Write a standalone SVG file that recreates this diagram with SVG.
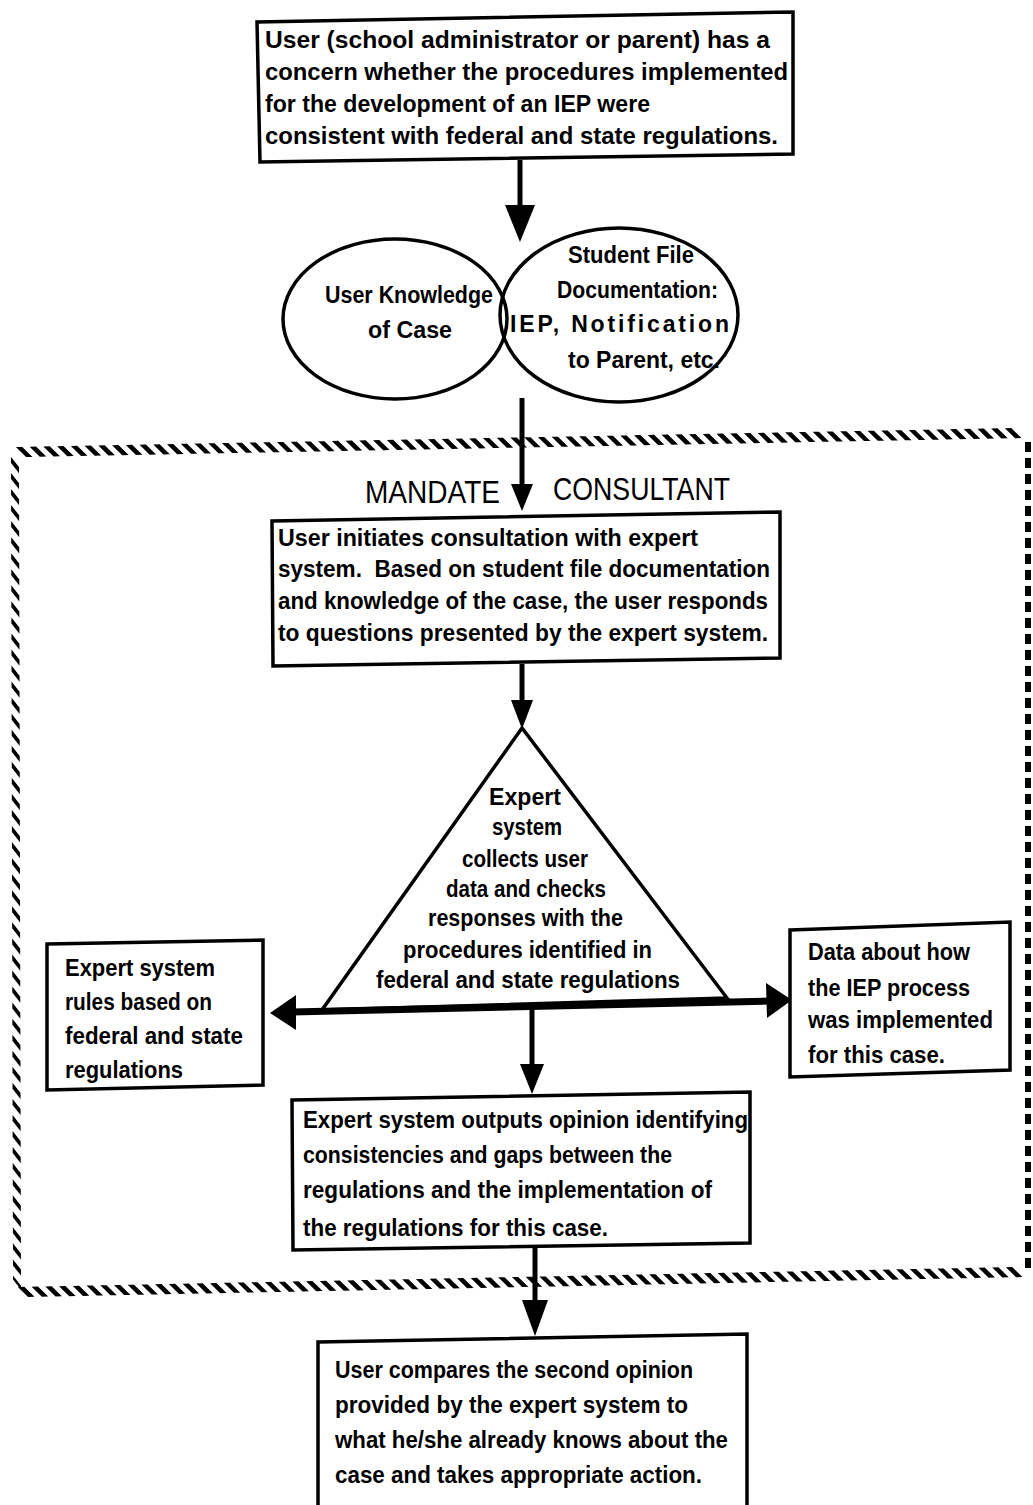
<svg xmlns="http://www.w3.org/2000/svg" width="1033" height="1505" viewBox="0 0 1033 1505">
  <style>
    .box { fill: #fff; stroke: #000; stroke-width: 3.5; stroke-linejoin: miter; }
    .shape { fill: none; stroke: #000; stroke-width: 3.5; }
    .t { font-family: "Liberation Sans", Arial, sans-serif; font-weight: bold; font-size: 23px; fill: #000; }
    .title { font-family: "Liberation Sans Narrow", "Liberation Sans", Arial, sans-serif; font-size: 32px; fill: #000; }
    .line { stroke: #000; stroke-width: 5; fill: none; }
    .head { fill: #000; }
    .hatchH { stroke: #000; stroke-width: 10; stroke-dasharray: 6.5 7.5; fill: none; }
    .hatchV { stroke: #000; stroke-width: 8; stroke-dasharray: 6 10; fill: none; }
  </style>

  <rect width="1033" height="1505" fill="#fff"/>

  <!-- MANDATE CONSULTANT boundary: thick dashed strokes skewed into slanted ticks -->
  <g id="boundary">
    <g transform="translate(0,443) skewX(45) translate(0,-443)">
      <line class="hatchH" x1="12" y1="452" x2="1030" y2="433"/>
    </g>
    <g transform="translate(0,1283) skewX(45) translate(0,-1283)">
      <line class="hatchH" x1="14" y1="1292" x2="1030" y2="1272"/>
    </g>
    <g transform="translate(15,0) skewY(52) translate(-15,0)">
      <line class="hatchV" x1="15" y1="462" x2="17" y2="1282"/>
    </g>
    <line x1="1028" y1="442" x2="1028" y2="1268" stroke="#000" stroke-width="6" stroke-dasharray="10 6"/>
    <text class="title" x="365" y="503" textLength="135" lengthAdjust="spacingAndGlyphs">MANDATE</text>
    <text class="title" x="553" y="500" textLength="177" lengthAdjust="spacingAndGlyphs">CONSULTANT</text>
  </g>

  <!-- connectors -->
  <g id="connectors">
    <line class="line" x1="520" y1="160" x2="520" y2="210"/>
    <polygon class="head" points="505,205 535,205 520,242"/>
    <line class="line" x1="522" y1="398" x2="522" y2="488"/>
    <polygon class="head" points="511,484 533,484 522,511"/>
    <line class="line" x1="522" y1="664" x2="522" y2="705"/>
    <polygon class="head" points="511,700 533,700 522,729"/>
    <!-- base bar with two-way arrows -->
    <line x1="292" y1="1012" x2="770" y2="1001" stroke="#000" stroke-width="7"/>
    <polygon class="head" points="270,1013 296,995 296,1030"/>
    <polygon class="head" points="792,1000 766,983 767,1018"/>
    <line class="line" x1="532" y1="1008" x2="532" y2="1068"/>
    <polygon class="head" points="520,1064 544,1064 532,1094"/>
    <line class="line" x1="535" y1="1248" x2="535" y2="1305"/>
    <polygon class="head" points="522,1300 548,1300 535,1336"/>
  </g>

  <g id="n1">
    <polygon class="box" points="257,22 793,12 793,154 260,162"/>
    <text class="t" x="265" y="48" textLength="505" lengthAdjust="spacingAndGlyphs">User (school administrator or parent) has a</text>
    <text class="t" x="265" y="80" textLength="523" lengthAdjust="spacingAndGlyphs">concern whether the procedures implemented</text>
    <text class="t" x="265" y="112" textLength="385" lengthAdjust="spacingAndGlyphs">for the development of an IEP were</text>
    <text class="t" x="265" y="144" textLength="513" lengthAdjust="spacingAndGlyphs">consistent with federal and state regulations.</text>
  </g>

  <g id="n2">
    <ellipse class="shape" cx="395" cy="319" rx="112" ry="80"/>
    <text class="t" x="325" y="303" textLength="168" lengthAdjust="spacingAndGlyphs">User Knowledge</text>
    <text class="t" x="368" y="338" textLength="84" lengthAdjust="spacingAndGlyphs">of Case</text>
  </g>

  <g id="n3">
    <ellipse class="shape" cx="619" cy="315" rx="119" ry="87"/>
    <text class="t" x="568" y="263" textLength="126" lengthAdjust="spacingAndGlyphs">Student File</text>
    <text class="t" x="557" y="298" textLength="161" lengthAdjust="spacingAndGlyphs">Documentation:</text>
    <text class="t" x="510" y="332" textLength="219" lengthAdjust="spacing">IEP, Notification</text>
    <text class="t" x="568" y="368" textLength="152" lengthAdjust="spacingAndGlyphs">to Parent, etc.</text>
  </g>

  <g id="n4">
    <polygon class="box" points="272,521 780,512 780,658 273,666"/>
    <text class="t" x="278" y="546" textLength="420" lengthAdjust="spacingAndGlyphs">User initiates consultation with expert</text>
    <text class="t" x="278" y="577" textLength="492" lengthAdjust="spacingAndGlyphs" xml:space="preserve">system.  Based on student file documentation</text>
    <text class="t" x="278" y="609" textLength="490" lengthAdjust="spacingAndGlyphs">and knowledge of the case, the user responds</text>
    <text class="t" x="278" y="641" textLength="490" lengthAdjust="spacingAndGlyphs">to questions presented by the expert system.</text>
  </g>

  <g id="n5">
    <polygon class="shape" points="522,728 322,1010 727,998" stroke-width="3"/>
    <text class="t" x="489" y="805" textLength="72" lengthAdjust="spacingAndGlyphs">Expert</text>
    <text class="t" x="492" y="835" textLength="70" lengthAdjust="spacingAndGlyphs">system</text>
    <text class="t" x="462" y="867" textLength="126" lengthAdjust="spacingAndGlyphs">collects user</text>
    <text class="t" x="446" y="897" textLength="160" lengthAdjust="spacingAndGlyphs">data and checks</text>
    <text class="t" x="428" y="926" textLength="195" lengthAdjust="spacingAndGlyphs">responses with the</text>
    <text class="t" x="403" y="958" textLength="249" lengthAdjust="spacingAndGlyphs">procedures identified in</text>
    <text class="t" x="376" y="988" textLength="304" lengthAdjust="spacingAndGlyphs">federal and state regulations</text>
  </g>

  <g id="n6">
    <polygon class="box" points="47,944 263,940 263,1085 47,1090"/>
    <text class="t" x="65" y="976" textLength="150" lengthAdjust="spacingAndGlyphs">Expert system</text>
    <text class="t" x="65" y="1010" textLength="147" lengthAdjust="spacingAndGlyphs">rules based on</text>
    <text class="t" x="65" y="1044" textLength="178" lengthAdjust="spacingAndGlyphs">federal and state</text>
    <text class="t" x="65" y="1078" textLength="118" lengthAdjust="spacingAndGlyphs">regulations</text>
  </g>

  <g id="n7">
    <polygon class="box" points="790,930 1010,922 1010,1070 790,1077"/>
    <text class="t" x="808" y="960" textLength="162" lengthAdjust="spacingAndGlyphs">Data about how</text>
    <text class="t" x="808" y="996" textLength="162" lengthAdjust="spacingAndGlyphs">the IEP process</text>
    <text class="t" x="808" y="1028" textLength="185" lengthAdjust="spacingAndGlyphs">was implemented</text>
    <text class="t" x="808" y="1063" textLength="137" lengthAdjust="spacingAndGlyphs">for this case.</text>
  </g>

  <g id="n8">
    <polygon class="box" points="292,1100 750,1092 750,1243 293,1250"/>
    <text class="t" x="303" y="1128" textLength="445" lengthAdjust="spacingAndGlyphs">Expert system outputs opinion identifying</text>
    <text class="t" x="303" y="1163" textLength="369" lengthAdjust="spacingAndGlyphs">consistencies and gaps between the</text>
    <text class="t" x="303" y="1198" textLength="409" lengthAdjust="spacingAndGlyphs">regulations and the implementation of</text>
    <text class="t" x="303" y="1236" textLength="305" lengthAdjust="spacingAndGlyphs">the regulations for this case.</text>
  </g>

  <g id="n9">
    <polygon class="box" points="318,1342 747,1334 747,1512 318,1512"/>
    <text class="t" x="335" y="1378" textLength="358" lengthAdjust="spacingAndGlyphs">User compares the second opinion</text>
    <text class="t" x="335" y="1413" textLength="353" lengthAdjust="spacingAndGlyphs">provided by the expert system to</text>
    <text class="t" x="335" y="1448" textLength="393" lengthAdjust="spacingAndGlyphs">what he/she already knows about the</text>
    <text class="t" x="335" y="1483" textLength="367" lengthAdjust="spacingAndGlyphs">case and takes appropriate action.</text>
  </g>
</svg>
